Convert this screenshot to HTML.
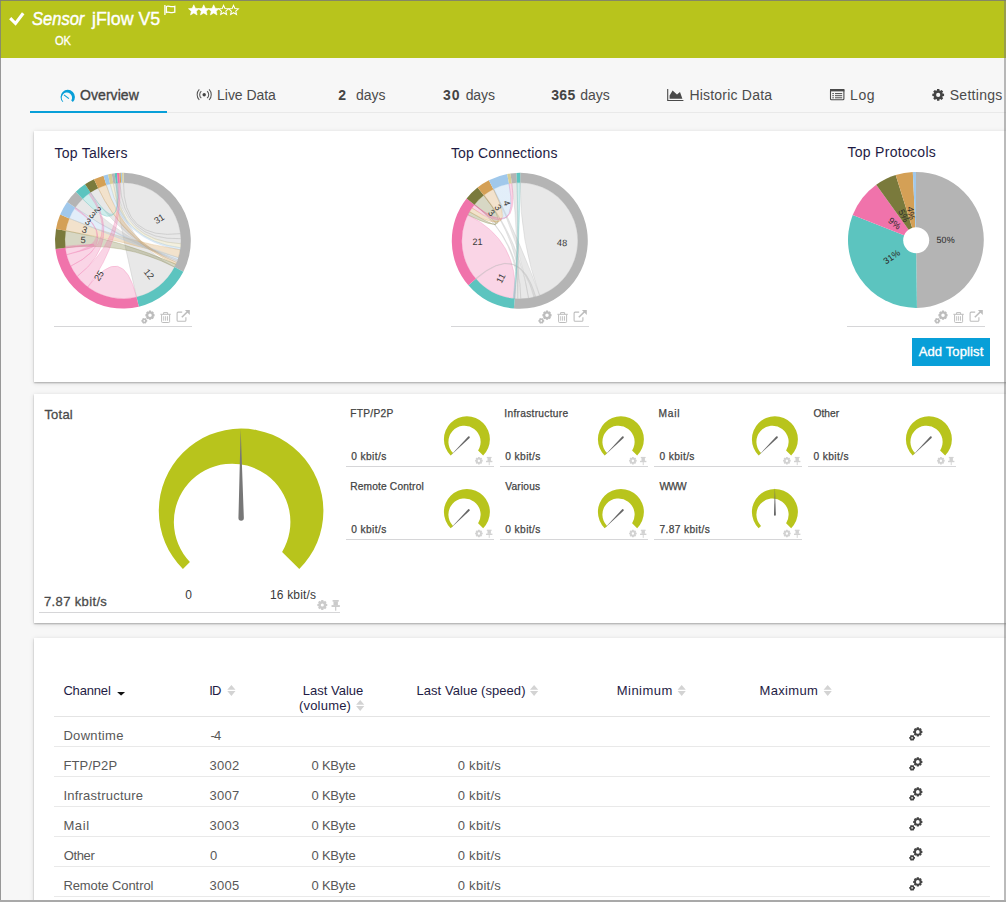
<!DOCTYPE html>
<html lang="en">
<head>
<meta charset="utf-8">
<title>Sensor jFlow V5</title>
<style>
html,body{margin:0;padding:0;}
body{width:1006px;height:902px;overflow:hidden;background:#f7f7f7;font-family:"Liberation Sans",Arial,sans-serif;color:#555;}
#page{position:relative;width:1006px;height:902px;overflow:hidden;background:#f7f7f7;}
.abs{position:absolute;}
.tx{position:absolute;white-space:nowrap;line-height:20px;height:20px;}
.m{-webkit-text-stroke:0.3px currentColor;}
.panel{position:absolute;left:34px;width:990px;background:#fff;box-shadow:0 1px 1.5px rgba(0,0,0,.25),0 1px 5px rgba(0,0,0,.13);}
.uline{position:absolute;height:1px;background:#d6d6d8;}
.rline{position:absolute;left:54px;width:936px;height:1px;background:#e9e9e9;}
svg{position:absolute;overflow:visible;}
svg text{font-family:"Liberation Sans",Arial,sans-serif;}
</style>
</head>
<body>
<div id="page">
<div class="abs" style="left:0;top:0;width:1006px;height:58px;background:#b8c41c;"></div>
<svg style="left:0;top:0" width="60" height="57" viewBox="0 0 60 57"><path d="M10.2 18.2 L15.5 23.5 L23.2 13.2" fill="none" stroke="#fff" stroke-width="3.1"/></svg>
<svg style="left:160px;top:0" width="24" height="20" viewBox="160 0 24 20"><path d="M164.9 5 V15" stroke="#fff" stroke-width="1.3" fill="none"/><path d="M166.4 6.5 C168.6 5.3 170.6 7.7 174.8 6.3 V12.2 C170.6 13.6 168.6 11.2 166.4 12.4 Z" fill="none" stroke="#fff" stroke-width="1.3"/></svg>
<svg style="left:0;top:0" width="260" height="20" viewBox="0 0 260 20"><polygon points="193.80,4.80 195.33,8.30 199.13,8.67 196.27,11.20 197.09,14.93 193.80,13.00 190.51,14.93 191.33,11.20 188.47,8.67 192.27,8.30" fill="#fff" stroke="#fff" stroke-width="0.6" stroke-linejoin="round"/><polygon points="203.74,4.80 205.27,8.30 209.07,8.67 206.21,11.20 207.03,14.93 203.74,13.00 200.45,14.93 201.27,11.20 198.41,8.67 202.21,8.30" fill="#fff" stroke="#fff" stroke-width="0.6" stroke-linejoin="round"/><polygon points="213.68,4.80 215.21,8.30 219.01,8.67 216.15,11.20 216.97,14.93 213.68,13.00 210.39,14.93 211.21,11.20 208.35,8.67 212.15,8.30" fill="#fff" stroke="#fff" stroke-width="0.6" stroke-linejoin="round"/><polygon points="223.62,5.40 224.97,8.54 228.38,8.85 225.81,11.11 226.56,14.45 223.62,12.70 220.68,14.45 221.43,11.11 218.86,8.85 222.27,8.54" fill="none" stroke="#fff" stroke-width="1.05" stroke-linejoin="miter"/><polygon points="233.56,5.40 234.91,8.54 238.32,8.85 235.75,11.11 236.50,14.45 233.56,12.70 230.62,14.45 231.37,11.11 228.80,8.85 232.21,8.54" fill="none" stroke="#fff" stroke-width="1.05" stroke-linejoin="miter"/></svg>
<div class="abs" style="left:30px;top:112px;width:976px;height:1px;background:#e9e9e9;"></div>
<div class="abs" style="left:30px;top:111px;width:137px;height:2px;background:#089fd8;"></div>
<svg style="left:0;top:0" width="100" height="120" viewBox="0 0 100 120"><path d="M62.66 102.09 A7.20 7.20 0 1 1 72.84 102.09 L71.26 100.51 A5.18 5.18 0 1 0 63.29 101.46 Z" fill="#089fd8"/><path d="M64.0 94.9 L68.9 98.6" stroke="#089fd8" stroke-width="1.15" fill="none"/></svg>
<svg style="left:0;top:0" width="260" height="120" viewBox="0 0 260 120"><g fill="none" stroke="#555" stroke-width="1.05"><circle cx="204.2" cy="94.7" r="1.7" fill="#444" stroke="none"/><path d="M201.3 91.2 A4.6 4.6 0 0 0 201.3 98.2"/><path d="M207.1 91.2 A4.6 4.6 0 0 1 207.1 98.2"/><path d="M199.3 89.4 A7.6 7.6 0 0 0 199.3 100"/><path d="M209.1 89.4 A7.6 7.6 0 0 1 209.1 100"/></g></svg>
<svg style="left:0;top:0" width="700" height="120" viewBox="0 0 700 120"><path d="M667.7 89 V100.5 H683.4" fill="none" stroke="#4a4a4a" stroke-width="1.1"/><path d="M669.6 98.8 V95.6 L672.6 90.4 L677 94.6 L680 92 L682.4 98.8 Z" fill="#4a4a4a"/></svg>
<svg style="left:0;top:0" width="860" height="120" viewBox="0 0 860 120"><rect x="830.5" y="89.5" width="13.4" height="10.2" rx="1" fill="none" stroke="#4a4a4a" stroke-width="1.1"/><rect x="830" y="89" width="14.4" height="2.4" fill="#4a4a4a"/><g stroke="#4a4a4a" stroke-width="1"><path d="M832.3 93.6h1.6M835 93.6h7.2M832.3 95.7h1.6M835 95.7h7.2M832.3 97.8h1.6M835 97.8h7.2"/></g></svg>
<svg style="left:0;top:0" width="1006" height="120" viewBox="0 0 1006 120"><path d="M944.08 93.73 L944.08 96.07 L942.61 96.22 L942.25 97.08 L943.19 98.23 L941.53 99.89 L940.38 98.95 L939.52 99.31 L939.37 100.78 L937.03 100.78 L936.88 99.31 L936.02 98.95 L934.87 99.89 L933.21 98.23 L934.15 97.08 L933.79 96.22 L932.32 96.07 L932.32 93.73 L933.79 93.58 L934.15 92.72 L933.21 91.57 L934.87 89.91 L936.02 90.85 L936.88 90.49 L937.03 89.02 L939.37 89.02 L939.52 90.49 L940.38 90.85 L941.53 89.91 L943.19 91.57 L942.25 92.72 L942.61 93.58 Z M936.10 94.90 a2.10 2.10 0 1 0 4.20 0 a2.10 2.10 0 1 0 -4.20 0 Z" fill="#444" fill-rule="evenodd"/></svg>
<div class="panel" style="top:131px;height:251px;"></div>
<div class="panel" style="top:394px;height:229px;"></div>
<div class="panel" style="top:638px;height:280px;"></div>
<div class="uline" style="left:54px;top:326px;width:138px;"></div>
<div class="uline" style="left:451px;top:326px;width:138px;"></div>
<div class="uline" style="left:847px;top:326px;width:138px;"></div>
<svg style="left:130px;top:300px" width="70" height="30" viewBox="130 300 70 30"><path d="M154.59 314.19 L154.59 316.21 L153.76 316.41 L153.51 317.01 L153.96 317.73 L152.53 319.16 L151.81 318.71 L151.21 318.96 L151.01 319.79 L148.99 319.79 L148.79 318.96 L148.19 318.71 L147.47 319.16 L146.04 317.73 L146.49 317.01 L146.24 316.41 L145.41 316.21 L145.41 314.19 L146.24 313.99 L146.49 313.39 L146.04 312.67 L147.47 311.24 L148.19 311.69 L148.79 311.44 L148.99 310.61 L151.01 310.61 L151.21 311.44 L151.81 311.69 L152.53 311.24 L153.96 312.67 L153.51 313.39 L153.76 313.99 Z M148.25 315.20 a1.75 1.75 0 1 0 3.50 0 a1.75 1.75 0 1 0 -3.50 0 Z" fill="#bdbdbd" fill-rule="evenodd"/><path d="M147.18 319.95 L147.18 321.65 L146.45 321.74 L146.19 322.19 L146.48 322.87 L145.00 323.72 L144.56 323.14 L144.04 323.14 L143.60 323.72 L142.12 322.87 L142.41 322.19 L142.15 321.74 L141.42 321.65 L141.42 319.95 L142.15 319.86 L142.41 319.41 L142.12 318.73 L143.60 317.88 L144.04 318.46 L144.56 318.46 L145.00 317.88 L146.48 318.73 L146.19 319.41 L146.45 319.86 Z M143.45 320.80 a0.85 0.85 0 1 0 1.70 0 a0.85 0.85 0 1 0 -1.70 0 Z" fill="#bdbdbd" fill-rule="evenodd"/><g fill="none" stroke="#bdbdbd" stroke-width="1"><path d="M160.4 314.3 H170.8"/><path d="M163.6 314.2 V312.6 H167.6 V314.2"/><path d="M161.6 314.6 V321.6 Q161.6 322.5 162.5 322.5 H168.7 Q169.6 322.5 169.6 321.6 V314.6"/><path d="M163.7 316.2 V320.7 M165.6 316.2 V320.7 M167.5 316.2 V320.7" stroke-width="0.9"/></g><g fill="none" stroke="#bdbdbd"><path d="M185.9 317.2 V320.2 Q185.9 321.3 184.8 321.3 H178.2 Q177.1 321.3 177.1 320.2 V313.2 Q177.1 312.1 178.2 312.1 H182.2" stroke-width="1.1"/><path d="M181.8 317.2 L188.4 310.9" stroke-width="1.5"/></g><path d="M184.9 310 H189.8 V314.9 Z" fill="#bdbdbd"/></svg>
<svg style="left:527px;top:300px" width="70" height="30" viewBox="130 300 70 30"><path d="M154.59 314.19 L154.59 316.21 L153.76 316.41 L153.51 317.01 L153.96 317.73 L152.53 319.16 L151.81 318.71 L151.21 318.96 L151.01 319.79 L148.99 319.79 L148.79 318.96 L148.19 318.71 L147.47 319.16 L146.04 317.73 L146.49 317.01 L146.24 316.41 L145.41 316.21 L145.41 314.19 L146.24 313.99 L146.49 313.39 L146.04 312.67 L147.47 311.24 L148.19 311.69 L148.79 311.44 L148.99 310.61 L151.01 310.61 L151.21 311.44 L151.81 311.69 L152.53 311.24 L153.96 312.67 L153.51 313.39 L153.76 313.99 Z M148.25 315.20 a1.75 1.75 0 1 0 3.50 0 a1.75 1.75 0 1 0 -3.50 0 Z" fill="#bdbdbd" fill-rule="evenodd"/><path d="M147.18 319.95 L147.18 321.65 L146.45 321.74 L146.19 322.19 L146.48 322.87 L145.00 323.72 L144.56 323.14 L144.04 323.14 L143.60 323.72 L142.12 322.87 L142.41 322.19 L142.15 321.74 L141.42 321.65 L141.42 319.95 L142.15 319.86 L142.41 319.41 L142.12 318.73 L143.60 317.88 L144.04 318.46 L144.56 318.46 L145.00 317.88 L146.48 318.73 L146.19 319.41 L146.45 319.86 Z M143.45 320.80 a0.85 0.85 0 1 0 1.70 0 a0.85 0.85 0 1 0 -1.70 0 Z" fill="#bdbdbd" fill-rule="evenodd"/><g fill="none" stroke="#bdbdbd" stroke-width="1"><path d="M160.4 314.3 H170.8"/><path d="M163.6 314.2 V312.6 H167.6 V314.2"/><path d="M161.6 314.6 V321.6 Q161.6 322.5 162.5 322.5 H168.7 Q169.6 322.5 169.6 321.6 V314.6"/><path d="M163.7 316.2 V320.7 M165.6 316.2 V320.7 M167.5 316.2 V320.7" stroke-width="0.9"/></g><g fill="none" stroke="#bdbdbd"><path d="M185.9 317.2 V320.2 Q185.9 321.3 184.8 321.3 H178.2 Q177.1 321.3 177.1 320.2 V313.2 Q177.1 312.1 178.2 312.1 H182.2" stroke-width="1.1"/><path d="M181.8 317.2 L188.4 310.9" stroke-width="1.5"/></g><path d="M184.9 310 H189.8 V314.9 Z" fill="#bdbdbd"/></svg>
<svg style="left:923px;top:300px" width="70" height="30" viewBox="130 300 70 30"><path d="M154.59 314.19 L154.59 316.21 L153.76 316.41 L153.51 317.01 L153.96 317.73 L152.53 319.16 L151.81 318.71 L151.21 318.96 L151.01 319.79 L148.99 319.79 L148.79 318.96 L148.19 318.71 L147.47 319.16 L146.04 317.73 L146.49 317.01 L146.24 316.41 L145.41 316.21 L145.41 314.19 L146.24 313.99 L146.49 313.39 L146.04 312.67 L147.47 311.24 L148.19 311.69 L148.79 311.44 L148.99 310.61 L151.01 310.61 L151.21 311.44 L151.81 311.69 L152.53 311.24 L153.96 312.67 L153.51 313.39 L153.76 313.99 Z M148.25 315.20 a1.75 1.75 0 1 0 3.50 0 a1.75 1.75 0 1 0 -3.50 0 Z" fill="#bdbdbd" fill-rule="evenodd"/><path d="M147.18 319.95 L147.18 321.65 L146.45 321.74 L146.19 322.19 L146.48 322.87 L145.00 323.72 L144.56 323.14 L144.04 323.14 L143.60 323.72 L142.12 322.87 L142.41 322.19 L142.15 321.74 L141.42 321.65 L141.42 319.95 L142.15 319.86 L142.41 319.41 L142.12 318.73 L143.60 317.88 L144.04 318.46 L144.56 318.46 L145.00 317.88 L146.48 318.73 L146.19 319.41 L146.45 319.86 Z M143.45 320.80 a0.85 0.85 0 1 0 1.70 0 a0.85 0.85 0 1 0 -1.70 0 Z" fill="#bdbdbd" fill-rule="evenodd"/><g fill="none" stroke="#bdbdbd" stroke-width="1"><path d="M160.4 314.3 H170.8"/><path d="M163.6 314.2 V312.6 H167.6 V314.2"/><path d="M161.6 314.6 V321.6 Q161.6 322.5 162.5 322.5 H168.7 Q169.6 322.5 169.6 321.6 V314.6"/><path d="M163.7 316.2 V320.7 M165.6 316.2 V320.7 M167.5 316.2 V320.7" stroke-width="0.9"/></g><g fill="none" stroke="#bdbdbd"><path d="M185.9 317.2 V320.2 Q185.9 321.3 184.8 321.3 H178.2 Q177.1 321.3 177.1 320.2 V313.2 Q177.1 312.1 178.2 312.1 H182.2" stroke-width="1.1"/><path d="M181.8 317.2 L188.4 310.9" stroke-width="1.5"/></g><path d="M184.9 310 H189.8 V314.9 Z" fill="#bdbdbd"/></svg>
<div class="abs" style="left:912px;top:338px;width:78px;height:28px;background:#089fd8;"></div>
<svg style="left:0;top:0" width="1006" height="400" viewBox="0 0 1006 400"><path d="M916.00 239.90 L916.00 171.90 A68.00 68.00 0 0 1 916.95 307.89 Z" fill="#b4b4b4"/><path d="M916.00 239.90 L916.95 307.89 A68.00 68.00 0 0 1 852.69 215.09 Z" fill="#5cc4bf"/><path d="M916.00 239.90 L852.69 215.09 A68.00 68.00 0 0 1 876.22 184.75 Z" fill="#f073ab"/><path d="M916.00 239.90 L876.22 184.75 A68.00 68.00 0 0 1 895.67 175.01 Z" fill="#7a7a3c"/><path d="M916.00 239.90 L895.67 175.01 A68.00 68.00 0 0 1 912.80 171.98 Z" fill="#d4a056"/><path d="M916.00 239.90 L912.80 171.98 A68.00 68.00 0 0 1 916.00 171.90 Z" fill="#a0c8eb"/><circle cx="916.20" cy="240.30" r="13" fill="#fff"/><text x="936.60" y="239.76" font-size="9" fill="#2a2a2a" text-anchor="start" transform="rotate(-0.4 936.60 239.76)" dy="0.36em">50%</text><text x="899.06" y="251.63" font-size="9" fill="#2a2a2a" text-anchor="end" transform="rotate(-34.7 899.06 251.63)" dy="0.36em">31%</text><text x="899.72" y="227.27" font-size="9" fill="#2a2a2a" text-anchor="end" transform="rotate(37.8 899.72 227.27)" dy="0.36em">9%</text><text x="906.78" y="221.48" font-size="9" fill="#2a2a2a" text-anchor="end" transform="rotate(63.4 906.78 221.48)" dy="0.36em">5%</text><text x="912.41" y="219.62" font-size="9" fill="#2a2a2a" text-anchor="end" transform="rotate(80.0 912.41 219.62)" dy="0.36em">4%</text></svg>
<svg style="left:0;top:0" width="1006" height="400" viewBox="0 0 1006 400"><g fill-opacity="0.3" stroke-opacity="0.45" stroke-width="0.6"><path d="M123.51 182.70 A58.00 58.00 0 0 1 180.47 233.63 Q122.90 240.70 123.51 182.70 Z" fill="#b4b4b4" stroke="#b4b4b4"/><path d="M174.53 267.12 A58.00 58.00 0 0 1 136.54 297.07 Q122.90 240.70 113.33 183.50 A58.00 58.00 0 0 1 115.83 183.13 Q122.90 240.70 174.53 267.12 Z" fill="#b4b4b4" stroke="#b4b4b4"/><path d="M180.47 233.63 A58.00 58.00 0 0 1 180.86 238.68 Q122.90 240.70 119.86 182.78 A58.00 58.00 0 0 1 123.51 182.70 Q122.90 240.70 180.47 233.63 Z" fill="#b4b4b4" stroke="#b4b4b4"/><path d="M180.86 238.68 A58.00 58.00 0 0 1 180.82 243.74 Q122.90 240.70 115.83 183.13 A58.00 58.00 0 0 1 119.86 182.78 Q122.90 240.70 180.86 238.68 Z" fill="#b4b4b4" stroke="#b4b4b4"/><path d="M180.82 243.74 A58.00 58.00 0 0 1 180.47 247.77 Q122.90 240.70 110.15 184.12 A58.00 58.00 0 0 1 113.33 183.50 Q122.90 240.70 180.82 243.74 Z" fill="#d7cd96" stroke="#d7cd96"/><path d="M180.47 247.77 A58.00 58.00 0 0 1 180.19 249.77 Q122.90 240.70 106.33 185.12 A58.00 58.00 0 0 1 110.15 184.12 Q122.90 240.70 180.47 247.77 Z" fill="#a0c8eb" stroke="#a0c8eb"/><path d="M180.19 249.77 A58.00 58.00 0 0 1 178.37 257.66 Q122.90 240.70 65.76 230.73 A58.00 58.00 0 0 1 69.35 218.41 Q122.90 240.70 180.19 249.77 Z" fill="#d4a056" stroke="#d4a056"/><path d="M178.37 257.66 A58.00 58.00 0 0 1 177.74 259.58 Q122.90 240.70 69.35 218.41 A58.00 58.00 0 0 1 75.27 207.60 Q122.90 240.70 178.37 257.66 Z" fill="#a0c8eb" stroke="#a0c8eb"/><path d="M177.74 259.58 A58.00 58.00 0 0 1 177.23 261.01 Q122.90 240.70 75.27 207.60 A58.00 58.00 0 0 1 82.68 198.91 Q122.90 240.70 177.74 259.58 Z" fill="#b4b4b4" stroke="#b4b4b4"/><path d="M177.23 261.01 A58.00 58.00 0 0 1 176.68 262.43 Q122.90 240.70 90.55 192.56 A58.00 58.00 0 0 1 98.20 188.22 Q122.90 240.70 177.23 261.01 Z" fill="#b4b4b4" stroke="#b4b4b4"/><path d="M176.68 262.43 A58.00 58.00 0 0 1 175.89 264.29 Q122.90 240.70 98.20 188.22 A58.00 58.00 0 0 1 106.33 185.12 Q122.90 240.70 176.68 262.43 Z" fill="#d4a056" stroke="#d4a056"/><path d="M175.89 264.29 A58.00 58.00 0 0 1 174.53 267.12 Q122.90 240.70 65.34 247.87 A58.00 58.00 0 0 1 65.76 230.73 Q122.90 240.70 175.89 264.29 Z" fill="#7a7a3c" stroke="#7a7a3c"/><path d="M82.68 198.91 A58.00 58.00 0 0 1 90.55 192.56 Q122.90 240.70 115.83 183.13 A58.00 58.00 0 0 1 117.84 182.92 Q122.90 240.70 82.68 198.91 Z" fill="#5cc4bf" stroke="#5cc4bf"/><path d="M136.54 297.07 A58.00 58.00 0 0 1 87.83 286.90 Q122.90 240.70 136.54 297.07 Z" fill="#f073ab" stroke="#f073ab"/><path d="M87.83 286.90 A58.00 58.00 0 0 1 77.20 276.41 Q122.90 240.70 117.84 182.92 A58.00 58.00 0 0 1 119.86 182.78 Q122.90 240.70 87.83 286.90 Z" fill="#f073ab" stroke="#f073ab"/><path d="M77.20 276.41 A58.00 58.00 0 0 1 70.77 266.13 Q122.90 240.70 88.81 193.78 A58.00 58.00 0 0 1 90.55 192.56 Q122.90 240.70 77.20 276.41 Z" fill="#f073ab" stroke="#f073ab"/><path d="M70.77 266.13 A58.00 58.00 0 0 1 66.62 254.73 Q122.90 240.70 74.59 208.60 A58.00 58.00 0 0 1 75.27 207.60 Q122.90 240.70 70.77 266.13 Z" fill="#f073ab" stroke="#f073ab"/><path d="M66.62 254.73 A58.00 58.00 0 0 1 65.34 247.87 Q122.90 240.70 65.34 247.87 A58.00 58.00 0 0 1 65.17 246.26 Q122.90 240.70 66.62 254.73 Z" fill="#f073ab" stroke="#f073ab"/></g><path d="M123.61 172.80 A67.90 67.90 0 0 1 183.35 271.63 L174.53 267.12 A58.00 58.00 0 0 0 123.51 182.70 Z" fill="#b4b4b4"/><path d="M183.35 271.63 A67.90 67.90 0 0 1 138.87 306.70 L136.54 297.07 A58.00 58.00 0 0 0 174.53 267.12 Z" fill="#5cc4bf"/><path d="M138.87 306.70 A67.90 67.90 0 0 1 55.52 249.09 L65.34 247.87 A58.00 58.00 0 0 0 136.54 297.07 Z" fill="#f073ab"/><path d="M55.52 249.09 A67.90 67.90 0 0 1 56.01 229.03 L65.76 230.73 A58.00 58.00 0 0 0 65.34 247.87 Z" fill="#7a7a3c"/><path d="M56.01 229.03 A67.90 67.90 0 0 1 60.21 214.61 L69.35 218.41 A58.00 58.00 0 0 0 65.76 230.73 Z" fill="#d4a056"/><path d="M60.21 214.61 A67.90 67.90 0 0 1 67.14 201.95 L75.27 207.60 A58.00 58.00 0 0 0 69.35 218.41 Z" fill="#a0c8eb"/><path d="M67.14 201.95 A67.90 67.90 0 0 1 75.82 191.77 L82.68 198.91 A58.00 58.00 0 0 0 75.27 207.60 Z" fill="#b4b4b4"/><path d="M75.82 191.77 A67.90 67.90 0 0 1 85.03 184.34 L90.55 192.56 A58.00 58.00 0 0 0 82.68 198.91 Z" fill="#5cc4bf"/><path d="M85.03 184.34 A67.90 67.90 0 0 1 93.99 179.26 L98.20 188.22 A58.00 58.00 0 0 0 90.55 192.56 Z" fill="#7a7a3c"/><path d="M93.99 179.26 A67.90 67.90 0 0 1 103.50 175.63 L106.33 185.12 A58.00 58.00 0 0 0 98.20 188.22 Z" fill="#d4a056"/><path d="M103.50 175.63 A67.90 67.90 0 0 1 107.97 174.46 L110.15 184.12 A58.00 58.00 0 0 0 106.33 185.12 Z" fill="#a0c8eb"/><path d="M107.97 174.46 A67.90 67.90 0 0 1 111.69 173.73 L113.33 183.50 A58.00 58.00 0 0 0 110.15 184.12 Z" fill="#d7cd96"/><path d="M111.69 173.73 A67.90 67.90 0 0 1 114.63 173.31 L115.83 183.13 A58.00 58.00 0 0 0 113.33 183.50 Z" fill="#b4b4b4"/><path d="M114.63 173.31 A67.90 67.90 0 0 1 116.98 173.06 L117.84 182.92 A58.00 58.00 0 0 0 115.83 183.13 Z" fill="#5cc4bf"/><path d="M116.98 173.06 A67.90 67.90 0 0 1 119.35 172.89 L119.86 182.78 A58.00 58.00 0 0 0 117.84 182.92 Z" fill="#f073ab"/><path d="M119.35 172.89 A67.90 67.90 0 0 1 120.77 172.83 L121.08 182.73 A58.00 58.00 0 0 0 119.86 182.78 Z" fill="#d4a056"/><path d="M120.77 172.83 A67.90 67.90 0 0 1 122.07 172.81 L122.19 182.70 A58.00 58.00 0 0 0 121.08 182.73 Z" fill="#a0c8eb"/><path d="M122.07 172.81 A67.90 67.90 0 0 1 123.61 172.80 L123.51 182.70 A58.00 58.00 0 0 0 122.19 182.70 Z" fill="#d7cd96"/><text x="154.72" y="221.43" font-size="9.2" fill="#3a3a3a" text-anchor="start" transform="rotate(-31.2 154.72 221.43)" dy="0.36em">31</text><text x="145.96" y="269.89" font-size="9.2" fill="#3a3a3a" text-anchor="start" transform="rotate(51.7 145.96 269.89)" dy="0.36em">12</text><text x="101.78" y="271.32" font-size="9.2" fill="#3a3a3a" text-anchor="end" transform="rotate(-55.4 101.78 271.32)" dy="0.36em">25</text><text x="85.71" y="239.79" font-size="9.2" fill="#3a3a3a" text-anchor="end" transform="rotate(1.4 85.71 239.79)" dy="0.36em">5</text><text x="87.18" y="230.32" font-size="9.2" fill="#3a3a3a" text-anchor="end" transform="rotate(16.2 87.18 230.32)" dy="0.36em">3</text><text x="90.27" y="222.84" font-size="9.2" fill="#3a3a3a" text-anchor="end" transform="rotate(28.7 90.27 222.84)" dy="0.36em">3</text><text x="94.57" y="216.59" font-size="9.2" fill="#3a3a3a" text-anchor="end" transform="rotate(40.4 94.57 216.59)" dy="0.36em">3</text><text x="99.54" y="211.75" font-size="9.2" fill="#3a3a3a" text-anchor="end" transform="rotate(51.1 99.54 211.75)" dy="0.36em">2</text></svg>
<svg style="left:0;top:0" width="1006" height="400" viewBox="0 0 1006 400"><defs><linearGradient id="g1" gradientUnits="userSpaceOnUse" x1="501.01" y1="185.93" x2="473.18" y2="206.30"><stop offset="0.550" stop-color="#a0c8eb"/><stop offset="0.550" stop-color="#f073ab"/></linearGradient></defs><g fill-opacity="0.3" stroke-opacity="0.45" stroke-width="0.6"><path d="M520.20 182.80 A58.00 58.00 0 0 1 539.64 295.30 Q519.80 240.80 520.20 182.80 Z" fill="#b4b4b4" stroke="#b4b4b4"/><path d="M539.64 295.30 A58.00 58.00 0 0 1 528.57 298.13 Q519.80 240.80 493.38 189.17 A58.00 58.00 0 0 1 493.92 188.89 Q519.80 240.80 539.64 295.30 Z" fill="#b4b4b4" stroke="#b4b4b4"/><path d="M528.57 298.13 A58.00 58.00 0 0 1 520.81 298.79 Q519.80 240.80 483.77 195.35 A58.00 58.00 0 0 1 484.25 194.97 Q519.80 240.80 528.57 298.13 Z" fill="#b4b4b4" stroke="#b4b4b4"/><path d="M520.81 298.79 A58.00 58.00 0 0 1 517.78 298.76 Q519.80 240.80 474.41 204.69 A58.00 58.00 0 0 1 474.73 204.30 Q519.80 240.80 520.81 298.79 Z" fill="#b4b4b4" stroke="#b4b4b4"/><path d="M474.41 204.69 A58.00 58.00 0 0 1 483.77 195.35 Q519.80 240.80 467.89 214.92 A58.00 58.00 0 0 1 469.57 211.80 Q519.80 240.80 474.41 204.69 Z" fill="#7a7a3c" stroke="#7a7a3c"/><path d="M517.78 298.76 A58.00 58.00 0 0 1 514.74 298.58 Q519.80 240.80 511.83 183.35 A58.00 58.00 0 0 1 516.97 182.87 Q519.80 240.80 517.78 298.76 Z" fill="#b4b4b4" stroke="#b4b4b4"/><path d="M514.74 298.58 A58.00 58.00 0 0 1 467.89 214.92 Q519.80 240.80 514.74 298.58 Z" fill="#f073ab" stroke="#f073ab"/><path d="M476.23 279.08 A58.00 58.00 0 0 1 475.70 278.47 Q519.80 240.80 535.79 296.55 A58.00 58.00 0 0 1 533.83 297.08 Q519.80 240.80 476.23 279.08 Z" fill="#b4b4b4" stroke="#b4b4b4"/><path d="M493.38 189.17 A58.00 58.00 0 0 1 509.03 183.81 Q519.80 240.80 472.00 207.95 A58.00 58.00 0 0 1 474.41 204.69 Q519.80 240.80 493.38 189.17 Z" fill="url(#g1)" stroke="url(#g1)"/><path d="M483.77 195.35 A58.00 58.00 0 0 1 493.38 189.17 Q519.80 240.80 469.57 211.80 A58.00 58.00 0 0 1 472.00 207.95 Q519.80 240.80 483.77 195.35 Z" fill="#d4a056" stroke="#d4a056"/><path d="M509.03 183.81 A58.00 58.00 0 0 1 511.83 183.35 Q519.80 240.80 474.10 205.09 A58.00 58.00 0 0 1 474.41 204.69 Q519.80 240.80 509.03 183.81 Z" fill="#f073ab" stroke="#f073ab"/><path d="M516.97 182.87 A58.00 58.00 0 0 1 520.20 182.80 Q519.80 240.80 514.74 298.58 A58.00 58.00 0 0 1 513.23 298.43 Q519.80 240.80 516.97 182.87 Z" fill="#5cc4bf" stroke="#5cc4bf"/></g><path d="M520.27 172.80 A68.00 68.00 0 1 1 513.87 308.54 L514.74 298.58 A58.00 58.00 0 1 0 520.20 182.80 Z" fill="#b4b4b4"/><path d="M513.87 308.54 A68.00 68.00 0 0 1 468.40 285.32 L475.96 278.77 A58.00 58.00 0 0 0 514.74 298.58 Z" fill="#5cc4bf"/><path d="M468.40 285.32 A68.00 68.00 0 0 1 466.58 198.47 L474.41 204.69 A58.00 58.00 0 0 0 475.96 278.77 Z" fill="#f073ab"/><path d="M466.58 198.47 A68.00 68.00 0 0 1 477.56 187.51 L483.77 195.35 A58.00 58.00 0 0 0 474.41 204.69 Z" fill="#7a7a3c"/><path d="M477.56 187.51 A68.00 68.00 0 0 1 488.82 180.27 L493.38 189.17 A58.00 58.00 0 0 0 483.77 195.35 Z" fill="#d4a056"/><path d="M488.82 180.27 A68.00 68.00 0 0 1 507.17 173.98 L509.03 183.81 A58.00 58.00 0 0 0 493.38 189.17 Z" fill="#a0c8eb"/><path d="M507.17 173.98 A68.00 68.00 0 0 1 510.45 173.45 L511.83 183.35 A58.00 58.00 0 0 0 509.03 183.81 Z" fill="#d7cd96"/><path d="M510.45 173.45 A68.00 68.00 0 0 1 516.48 172.88 L516.97 182.87 A58.00 58.00 0 0 0 511.83 183.35 Z" fill="#b4b4b4"/><path d="M516.48 172.88 A68.00 68.00 0 0 1 520.27 172.80 L520.20 182.80 A58.00 58.00 0 0 0 516.97 182.87 Z" fill="#5cc4bf"/><text x="556.96" y="242.55" font-size="9.2" fill="#3a3a3a" text-anchor="start" transform="rotate(2.7 556.96 242.55)" dy="0.36em">48</text><text x="502.91" y="273.95" font-size="9.2" fill="#3a3a3a" text-anchor="end" transform="rotate(-63.0 502.91 273.95)" dy="0.36em">11</text><text x="482.61" y="241.58" font-size="9.2" fill="#3a3a3a" text-anchor="end" transform="rotate(-1.2 482.61 241.58)" dy="0.36em">21</text><text x="493.50" y="214.50" font-size="9.2" fill="#3a3a3a" text-anchor="end" transform="rotate(45.0 493.50 214.50)" dy="0.36em">3</text><text x="499.65" y="209.53" font-size="9.2" fill="#3a3a3a" text-anchor="end" transform="rotate(57.2 499.65 209.53)" dy="0.36em">3</text><text x="507.75" y="205.61" font-size="9.2" fill="#3a3a3a" text-anchor="end" transform="rotate(71.1 507.75 205.61)" dy="0.36em">4</text></svg>
<svg style="left:0;top:0" width="1006" height="640" viewBox="0 0 1006 640"><path d="M182.91 569.09 A82.30 82.30 0 1 1 299.29 569.09 L282.10 551.90 A58.27 58.27 0 1 0 189.91 562.09 Z" fill="#b8c41c"/><path d="M240.67 428.90 L238.44 518.11 A2.70 2.70 0 0 0 243.84 518.09 Z" fill="#777777"/><path d="M450.64 455.46 A23.00 23.00 0 1 1 483.16 455.46 L478.11 450.41 A16.10 16.10 0 1 0 453.02 453.08 Z" fill="#b8c41c"/><path d="M450.64 455.46 L469.55 437.89 A0.95 0.95 0 0 0 468.21 436.55 Z" fill="#666666"/><path d="M604.64 455.46 A23.00 23.00 0 1 1 637.16 455.46 L632.11 450.41 A16.10 16.10 0 1 0 607.02 453.08 Z" fill="#b8c41c"/><path d="M604.64 455.46 L623.55 437.89 A0.95 0.95 0 0 0 622.21 436.55 Z" fill="#666666"/><path d="M758.64 455.46 A23.00 23.00 0 1 1 791.16 455.46 L786.11 450.41 A16.10 16.10 0 1 0 761.02 453.08 Z" fill="#b8c41c"/><path d="M758.64 455.46 L777.55 437.89 A0.95 0.95 0 0 0 776.21 436.55 Z" fill="#666666"/><path d="M912.64 455.46 A23.00 23.00 0 1 1 945.16 455.46 L940.11 450.41 A16.10 16.10 0 1 0 915.02 453.08 Z" fill="#b8c41c"/><path d="M912.64 455.46 L931.55 437.89 A0.95 0.95 0 0 0 930.21 436.55 Z" fill="#666666"/><path d="M450.64 528.26 A23.00 23.00 0 1 1 483.16 528.26 L478.11 523.21 A16.10 16.10 0 1 0 453.02 525.88 Z" fill="#b8c41c"/><path d="M450.64 528.26 L469.55 510.69 A0.95 0.95 0 0 0 468.21 509.35 Z" fill="#666666"/><path d="M604.64 528.26 A23.00 23.00 0 1 1 637.16 528.26 L632.11 523.21 A16.10 16.10 0 1 0 607.02 525.88 Z" fill="#b8c41c"/><path d="M604.64 528.26 L623.55 510.69 A0.95 0.95 0 0 0 622.21 509.35 Z" fill="#666666"/><path d="M758.64 528.26 A23.00 23.00 0 1 1 791.16 528.26 L786.11 523.21 A16.10 16.10 0 1 0 761.02 525.88 Z" fill="#b8c41c"/><path d="M774.90 487.40 L773.95 514.80 A0.95 0.95 0 0 0 775.85 514.80 Z" fill="#666666"/></svg>
<div class="uline" style="left:39px;top:612px;width:301px;"></div>
<svg style="left:0;top:0" width="1006" height="640" viewBox="0 0 1006 640"><path d="M327.25 603.91 L327.25 606.09 L326.08 606.21 L325.83 606.81 L326.57 607.73 L325.03 609.27 L324.11 608.53 L323.51 608.78 L323.39 609.95 L321.21 609.95 L321.09 608.78 L320.49 608.53 L319.57 609.27 L318.03 607.73 L318.77 606.81 L318.52 606.21 L317.35 606.09 L317.35 603.91 L318.52 603.79 L318.77 603.19 L318.03 602.27 L319.57 600.73 L320.49 601.47 L321.09 601.22 L321.21 600.05 L323.39 600.05 L323.51 601.22 L324.11 601.47 L325.03 600.73 L326.57 602.27 L325.83 603.19 L326.08 603.79 Z M320.74 605.00 a1.56 1.56 0 1 0 3.12 0 a1.56 1.56 0 1 0 -3.12 0 Z" fill="#cbcbcb" fill-rule="evenodd"/><g fill="#cbcbcb"><rect x="332.57" y="600.06" width="6.24" height="1.56"/><rect x="333.48" y="601.23" width="4.42" height="4.16"/><rect x="331.53" y="605.13" width="8.32" height="1.82"/><rect x="335.11" y="606.69" width="1.17" height="4.03"/></g><path d="M482.71 459.86 L482.71 461.54 L481.80 461.63 L481.61 462.10 L482.18 462.80 L481.00 463.98 L480.30 463.41 L479.83 463.60 L479.74 464.51 L478.06 464.51 L477.97 463.60 L477.50 463.41 L476.80 463.98 L475.62 462.80 L476.19 462.10 L476.00 461.63 L475.09 461.54 L475.09 459.86 L476.00 459.77 L476.19 459.30 L475.62 458.60 L476.80 457.42 L477.50 457.99 L477.97 457.80 L478.06 456.89 L479.74 456.89 L479.83 457.80 L480.30 457.99 L481.00 457.42 L482.18 458.60 L481.61 459.30 L481.80 459.77 Z M477.70 460.70 a1.20 1.20 0 1 0 2.40 0 a1.20 1.20 0 1 0 -2.40 0 Z" fill="#d2d2d2" fill-rule="evenodd"/><g fill="#d2d2d2"><rect x="486.80" y="456.90" width="4.80" height="1.20"/><rect x="487.50" y="457.80" width="3.40" height="3.20"/><rect x="486.00" y="460.80" width="6.40" height="1.40"/><rect x="488.75" y="462.00" width="0.90" height="3.10"/></g><path d="M636.71 459.86 L636.71 461.54 L635.80 461.63 L635.61 462.10 L636.18 462.80 L635.00 463.98 L634.30 463.41 L633.83 463.60 L633.74 464.51 L632.06 464.51 L631.97 463.60 L631.50 463.41 L630.80 463.98 L629.62 462.80 L630.19 462.10 L630.00 461.63 L629.09 461.54 L629.09 459.86 L630.00 459.77 L630.19 459.30 L629.62 458.60 L630.80 457.42 L631.50 457.99 L631.97 457.80 L632.06 456.89 L633.74 456.89 L633.83 457.80 L634.30 457.99 L635.00 457.42 L636.18 458.60 L635.61 459.30 L635.80 459.77 Z M631.70 460.70 a1.20 1.20 0 1 0 2.40 0 a1.20 1.20 0 1 0 -2.40 0 Z" fill="#d2d2d2" fill-rule="evenodd"/><g fill="#d2d2d2"><rect x="640.80" y="456.90" width="4.80" height="1.20"/><rect x="641.50" y="457.80" width="3.40" height="3.20"/><rect x="640.00" y="460.80" width="6.40" height="1.40"/><rect x="642.75" y="462.00" width="0.90" height="3.10"/></g><path d="M790.71 459.86 L790.71 461.54 L789.80 461.63 L789.61 462.10 L790.18 462.80 L789.00 463.98 L788.30 463.41 L787.83 463.60 L787.74 464.51 L786.06 464.51 L785.97 463.60 L785.50 463.41 L784.80 463.98 L783.62 462.80 L784.19 462.10 L784.00 461.63 L783.09 461.54 L783.09 459.86 L784.00 459.77 L784.19 459.30 L783.62 458.60 L784.80 457.42 L785.50 457.99 L785.97 457.80 L786.06 456.89 L787.74 456.89 L787.83 457.80 L788.30 457.99 L789.00 457.42 L790.18 458.60 L789.61 459.30 L789.80 459.77 Z M785.70 460.70 a1.20 1.20 0 1 0 2.40 0 a1.20 1.20 0 1 0 -2.40 0 Z" fill="#d2d2d2" fill-rule="evenodd"/><g fill="#d2d2d2"><rect x="794.80" y="456.90" width="4.80" height="1.20"/><rect x="795.50" y="457.80" width="3.40" height="3.20"/><rect x="794.00" y="460.80" width="6.40" height="1.40"/><rect x="796.75" y="462.00" width="0.90" height="3.10"/></g><path d="M944.71 459.86 L944.71 461.54 L943.80 461.63 L943.61 462.10 L944.18 462.80 L943.00 463.98 L942.30 463.41 L941.83 463.60 L941.74 464.51 L940.06 464.51 L939.97 463.60 L939.50 463.41 L938.80 463.98 L937.62 462.80 L938.19 462.10 L938.00 461.63 L937.09 461.54 L937.09 459.86 L938.00 459.77 L938.19 459.30 L937.62 458.60 L938.80 457.42 L939.50 457.99 L939.97 457.80 L940.06 456.89 L941.74 456.89 L941.83 457.80 L942.30 457.99 L943.00 457.42 L944.18 458.60 L943.61 459.30 L943.80 459.77 Z M939.70 460.70 a1.20 1.20 0 1 0 2.40 0 a1.20 1.20 0 1 0 -2.40 0 Z" fill="#d2d2d2" fill-rule="evenodd"/><g fill="#d2d2d2"><rect x="948.80" y="456.90" width="4.80" height="1.20"/><rect x="949.50" y="457.80" width="3.40" height="3.20"/><rect x="948.00" y="460.80" width="6.40" height="1.40"/><rect x="950.75" y="462.00" width="0.90" height="3.10"/></g><path d="M482.71 532.66 L482.71 534.34 L481.80 534.43 L481.61 534.90 L482.18 535.60 L481.00 536.78 L480.30 536.21 L479.83 536.40 L479.74 537.31 L478.06 537.31 L477.97 536.40 L477.50 536.21 L476.80 536.78 L475.62 535.60 L476.19 534.90 L476.00 534.43 L475.09 534.34 L475.09 532.66 L476.00 532.57 L476.19 532.10 L475.62 531.40 L476.80 530.22 L477.50 530.79 L477.97 530.60 L478.06 529.69 L479.74 529.69 L479.83 530.60 L480.30 530.79 L481.00 530.22 L482.18 531.40 L481.61 532.10 L481.80 532.57 Z M477.70 533.50 a1.20 1.20 0 1 0 2.40 0 a1.20 1.20 0 1 0 -2.40 0 Z" fill="#d2d2d2" fill-rule="evenodd"/><g fill="#d2d2d2"><rect x="486.80" y="529.70" width="4.80" height="1.20"/><rect x="487.50" y="530.60" width="3.40" height="3.20"/><rect x="486.00" y="533.60" width="6.40" height="1.40"/><rect x="488.75" y="534.80" width="0.90" height="3.10"/></g><path d="M636.71 532.66 L636.71 534.34 L635.80 534.43 L635.61 534.90 L636.18 535.60 L635.00 536.78 L634.30 536.21 L633.83 536.40 L633.74 537.31 L632.06 537.31 L631.97 536.40 L631.50 536.21 L630.80 536.78 L629.62 535.60 L630.19 534.90 L630.00 534.43 L629.09 534.34 L629.09 532.66 L630.00 532.57 L630.19 532.10 L629.62 531.40 L630.80 530.22 L631.50 530.79 L631.97 530.60 L632.06 529.69 L633.74 529.69 L633.83 530.60 L634.30 530.79 L635.00 530.22 L636.18 531.40 L635.61 532.10 L635.80 532.57 Z M631.70 533.50 a1.20 1.20 0 1 0 2.40 0 a1.20 1.20 0 1 0 -2.40 0 Z" fill="#d2d2d2" fill-rule="evenodd"/><g fill="#d2d2d2"><rect x="640.80" y="529.70" width="4.80" height="1.20"/><rect x="641.50" y="530.60" width="3.40" height="3.20"/><rect x="640.00" y="533.60" width="6.40" height="1.40"/><rect x="642.75" y="534.80" width="0.90" height="3.10"/></g><path d="M790.71 532.66 L790.71 534.34 L789.80 534.43 L789.61 534.90 L790.18 535.60 L789.00 536.78 L788.30 536.21 L787.83 536.40 L787.74 537.31 L786.06 537.31 L785.97 536.40 L785.50 536.21 L784.80 536.78 L783.62 535.60 L784.19 534.90 L784.00 534.43 L783.09 534.34 L783.09 532.66 L784.00 532.57 L784.19 532.10 L783.62 531.40 L784.80 530.22 L785.50 530.79 L785.97 530.60 L786.06 529.69 L787.74 529.69 L787.83 530.60 L788.30 530.79 L789.00 530.22 L790.18 531.40 L789.61 532.10 L789.80 532.57 Z M785.70 533.50 a1.20 1.20 0 1 0 2.40 0 a1.20 1.20 0 1 0 -2.40 0 Z" fill="#d2d2d2" fill-rule="evenodd"/><g fill="#d2d2d2"><rect x="794.80" y="529.70" width="4.80" height="1.20"/><rect x="795.50" y="530.60" width="3.40" height="3.20"/><rect x="794.00" y="533.60" width="6.40" height="1.40"/><rect x="796.75" y="534.80" width="0.90" height="3.10"/></g></svg>
<div class="uline" style="left:346px;top:466px;width:148px;"></div>
<div class="uline" style="left:500px;top:466px;width:148px;"></div>
<div class="uline" style="left:654px;top:466px;width:148px;"></div>
<div class="uline" style="left:808px;top:466px;width:148px;"></div>
<div class="uline" style="left:346px;top:539px;width:148px;"></div>
<div class="uline" style="left:500px;top:539px;width:148px;"></div>
<div class="uline" style="left:654px;top:539px;width:148px;"></div>
<svg style="left:0;top:0" width="1006" height="902" viewBox="0 0 1006 902"><path d="M117.7 691.9 H124.5 Q125 691.9 124.6 692.4 L121.5 695.3 Q121.1 695.6 120.7 695.3 L117.6 692.4 Q117.2 691.9 117.7 691.9 Z" fill="#111"/><path d="M227.30 689.85 l4.1 -4.85 l4.1 4.85 Z M227.30 691.05 l4.1 4.85 l4.1 -4.85 Z" fill="#d3d3d3"/><path d="M356.10 704.85 l4.1 -4.85 l4.1 4.85 Z M356.10 706.05 l4.1 4.85 l4.1 -4.85 Z" fill="#d3d3d3"/><path d="M530.00 689.85 l4.1 -4.85 l4.1 4.85 Z M530.00 691.05 l4.1 4.85 l4.1 -4.85 Z" fill="#d3d3d3"/><path d="M677.60 689.85 l4.1 -4.85 l4.1 4.85 Z M677.60 691.05 l4.1 4.85 l4.1 -4.85 Z" fill="#d3d3d3"/><path d="M823.60 689.85 l4.1 -4.85 l4.1 4.85 Z M823.60 691.05 l4.1 4.85 l4.1 -4.85 Z" fill="#d3d3d3"/><path d="M922.39 730.89 L922.39 732.91 L921.51 733.09 L921.27 733.68 L921.76 734.43 L920.33 735.86 L919.58 735.37 L918.99 735.61 L918.81 736.49 L916.79 736.49 L916.61 735.61 L916.02 735.37 L915.27 735.86 L913.84 734.43 L914.33 733.68 L914.09 733.09 L913.21 732.91 L913.21 730.89 L914.09 730.71 L914.33 730.12 L913.84 729.37 L915.27 727.94 L916.02 728.43 L916.61 728.19 L916.79 727.31 L918.81 727.31 L918.99 728.19 L919.58 728.43 L920.33 727.94 L921.76 729.37 L921.27 730.12 L921.51 730.71 Z M915.95 731.90 a1.85 1.85 0 1 0 3.70 0 a1.85 1.85 0 1 0 -3.70 0 Z" fill="#454545" fill-rule="evenodd"/><path d="M914.98 737.05 L914.98 738.75 L914.21 738.82 L913.95 739.26 L914.28 739.97 L912.80 740.82 L912.35 740.19 L911.85 740.19 L911.40 740.82 L909.92 739.97 L910.25 739.26 L909.99 738.82 L909.22 738.75 L909.22 737.05 L909.99 736.98 L910.25 736.54 L909.92 735.83 L911.40 734.98 L911.85 735.61 L912.35 735.61 L912.80 734.98 L914.28 735.83 L913.95 736.54 L914.21 736.98 Z M911.30 737.90 a0.80 0.80 0 1 0 1.60 0 a0.80 0.80 0 1 0 -1.60 0 Z" fill="#454545" fill-rule="evenodd"/><path d="M922.39 760.89 L922.39 762.91 L921.51 763.09 L921.27 763.68 L921.76 764.43 L920.33 765.86 L919.58 765.37 L918.99 765.61 L918.81 766.49 L916.79 766.49 L916.61 765.61 L916.02 765.37 L915.27 765.86 L913.84 764.43 L914.33 763.68 L914.09 763.09 L913.21 762.91 L913.21 760.89 L914.09 760.71 L914.33 760.12 L913.84 759.37 L915.27 757.94 L916.02 758.43 L916.61 758.19 L916.79 757.31 L918.81 757.31 L918.99 758.19 L919.58 758.43 L920.33 757.94 L921.76 759.37 L921.27 760.12 L921.51 760.71 Z M915.95 761.90 a1.85 1.85 0 1 0 3.70 0 a1.85 1.85 0 1 0 -3.70 0 Z" fill="#454545" fill-rule="evenodd"/><path d="M914.98 767.05 L914.98 768.75 L914.21 768.82 L913.95 769.26 L914.28 769.97 L912.80 770.82 L912.35 770.19 L911.85 770.19 L911.40 770.82 L909.92 769.97 L910.25 769.26 L909.99 768.82 L909.22 768.75 L909.22 767.05 L909.99 766.98 L910.25 766.54 L909.92 765.83 L911.40 764.98 L911.85 765.61 L912.35 765.61 L912.80 764.98 L914.28 765.83 L913.95 766.54 L914.21 766.98 Z M911.30 767.90 a0.80 0.80 0 1 0 1.60 0 a0.80 0.80 0 1 0 -1.60 0 Z" fill="#454545" fill-rule="evenodd"/><path d="M922.39 790.89 L922.39 792.91 L921.51 793.09 L921.27 793.68 L921.76 794.43 L920.33 795.86 L919.58 795.37 L918.99 795.61 L918.81 796.49 L916.79 796.49 L916.61 795.61 L916.02 795.37 L915.27 795.86 L913.84 794.43 L914.33 793.68 L914.09 793.09 L913.21 792.91 L913.21 790.89 L914.09 790.71 L914.33 790.12 L913.84 789.37 L915.27 787.94 L916.02 788.43 L916.61 788.19 L916.79 787.31 L918.81 787.31 L918.99 788.19 L919.58 788.43 L920.33 787.94 L921.76 789.37 L921.27 790.12 L921.51 790.71 Z M915.95 791.90 a1.85 1.85 0 1 0 3.70 0 a1.85 1.85 0 1 0 -3.70 0 Z" fill="#454545" fill-rule="evenodd"/><path d="M914.98 797.05 L914.98 798.75 L914.21 798.82 L913.95 799.26 L914.28 799.97 L912.80 800.82 L912.35 800.19 L911.85 800.19 L911.40 800.82 L909.92 799.97 L910.25 799.26 L909.99 798.82 L909.22 798.75 L909.22 797.05 L909.99 796.98 L910.25 796.54 L909.92 795.83 L911.40 794.98 L911.85 795.61 L912.35 795.61 L912.80 794.98 L914.28 795.83 L913.95 796.54 L914.21 796.98 Z M911.30 797.90 a0.80 0.80 0 1 0 1.60 0 a0.80 0.80 0 1 0 -1.60 0 Z" fill="#454545" fill-rule="evenodd"/><path d="M922.39 820.89 L922.39 822.91 L921.51 823.09 L921.27 823.68 L921.76 824.43 L920.33 825.86 L919.58 825.37 L918.99 825.61 L918.81 826.49 L916.79 826.49 L916.61 825.61 L916.02 825.37 L915.27 825.86 L913.84 824.43 L914.33 823.68 L914.09 823.09 L913.21 822.91 L913.21 820.89 L914.09 820.71 L914.33 820.12 L913.84 819.37 L915.27 817.94 L916.02 818.43 L916.61 818.19 L916.79 817.31 L918.81 817.31 L918.99 818.19 L919.58 818.43 L920.33 817.94 L921.76 819.37 L921.27 820.12 L921.51 820.71 Z M915.95 821.90 a1.85 1.85 0 1 0 3.70 0 a1.85 1.85 0 1 0 -3.70 0 Z" fill="#454545" fill-rule="evenodd"/><path d="M914.98 827.05 L914.98 828.75 L914.21 828.82 L913.95 829.26 L914.28 829.97 L912.80 830.82 L912.35 830.19 L911.85 830.19 L911.40 830.82 L909.92 829.97 L910.25 829.26 L909.99 828.82 L909.22 828.75 L909.22 827.05 L909.99 826.98 L910.25 826.54 L909.92 825.83 L911.40 824.98 L911.85 825.61 L912.35 825.61 L912.80 824.98 L914.28 825.83 L913.95 826.54 L914.21 826.98 Z M911.30 827.90 a0.80 0.80 0 1 0 1.60 0 a0.80 0.80 0 1 0 -1.60 0 Z" fill="#454545" fill-rule="evenodd"/><path d="M922.39 850.89 L922.39 852.91 L921.51 853.09 L921.27 853.68 L921.76 854.43 L920.33 855.86 L919.58 855.37 L918.99 855.61 L918.81 856.49 L916.79 856.49 L916.61 855.61 L916.02 855.37 L915.27 855.86 L913.84 854.43 L914.33 853.68 L914.09 853.09 L913.21 852.91 L913.21 850.89 L914.09 850.71 L914.33 850.12 L913.84 849.37 L915.27 847.94 L916.02 848.43 L916.61 848.19 L916.79 847.31 L918.81 847.31 L918.99 848.19 L919.58 848.43 L920.33 847.94 L921.76 849.37 L921.27 850.12 L921.51 850.71 Z M915.95 851.90 a1.85 1.85 0 1 0 3.70 0 a1.85 1.85 0 1 0 -3.70 0 Z" fill="#454545" fill-rule="evenodd"/><path d="M914.98 857.05 L914.98 858.75 L914.21 858.82 L913.95 859.26 L914.28 859.97 L912.80 860.82 L912.35 860.19 L911.85 860.19 L911.40 860.82 L909.92 859.97 L910.25 859.26 L909.99 858.82 L909.22 858.75 L909.22 857.05 L909.99 856.98 L910.25 856.54 L909.92 855.83 L911.40 854.98 L911.85 855.61 L912.35 855.61 L912.80 854.98 L914.28 855.83 L913.95 856.54 L914.21 856.98 Z M911.30 857.90 a0.80 0.80 0 1 0 1.60 0 a0.80 0.80 0 1 0 -1.60 0 Z" fill="#454545" fill-rule="evenodd"/><path d="M922.39 880.89 L922.39 882.91 L921.51 883.09 L921.27 883.68 L921.76 884.43 L920.33 885.86 L919.58 885.37 L918.99 885.61 L918.81 886.49 L916.79 886.49 L916.61 885.61 L916.02 885.37 L915.27 885.86 L913.84 884.43 L914.33 883.68 L914.09 883.09 L913.21 882.91 L913.21 880.89 L914.09 880.71 L914.33 880.12 L913.84 879.37 L915.27 877.94 L916.02 878.43 L916.61 878.19 L916.79 877.31 L918.81 877.31 L918.99 878.19 L919.58 878.43 L920.33 877.94 L921.76 879.37 L921.27 880.12 L921.51 880.71 Z M915.95 881.90 a1.85 1.85 0 1 0 3.70 0 a1.85 1.85 0 1 0 -3.70 0 Z" fill="#454545" fill-rule="evenodd"/><path d="M914.98 887.05 L914.98 888.75 L914.21 888.82 L913.95 889.26 L914.28 889.97 L912.80 890.82 L912.35 890.19 L911.85 890.19 L911.40 890.82 L909.92 889.97 L910.25 889.26 L909.99 888.82 L909.22 888.75 L909.22 887.05 L909.99 886.98 L910.25 886.54 L909.92 885.83 L911.40 884.98 L911.85 885.61 L912.35 885.61 L912.80 884.98 L914.28 885.83 L913.95 886.54 L914.21 886.98 Z M911.30 887.90 a0.80 0.80 0 1 0 1.60 0 a0.80 0.80 0 1 0 -1.60 0 Z" fill="#454545" fill-rule="evenodd"/></svg>
<div class="rline" style="top:716px;background:#e4e4e4;"></div>
<div class="rline" style="top:746px;"></div>
<div class="rline" style="top:776px;"></div>
<div class="rline" style="top:806px;"></div>
<div class="rline" style="top:836px;"></div>
<div class="rline" style="top:866px;"></div>
<div class="rline" style="top:896px;"></div>
<!-- TEXT -->
<span class="tx" style="left:32.31px;top:8.59px;font-size:18.5px;color:#ffffff;letter-spacing:0.000px;font-style:italic;-webkit-text-stroke:0.45px #fff;transform:scaleX(0.8931);transform-origin:0 0;">Sensor</span>
<span class="tx" style="left:91.76px;top:8.59px;font-size:18.5px;color:#ffffff;letter-spacing:0.000px;-webkit-text-stroke:0.4px #fff;transform:scaleX(0.9606);transform-origin:0 0;">jFlow V5</span>
<span class="tx" style="left:55.20px;top:30.64px;font-size:12px;color:#ffffff;letter-spacing:0.000px;-webkit-text-stroke:0.3px #fff;transform:scaleX(0.9235);transform-origin:0 0;">OK</span>
<span class="tx" style="left:80.00px;top:84.85px;font-size:14px;color:#444;letter-spacing:0.071px;-webkit-text-stroke:0.35px #444;">Overview</span>
<span class="tx" style="left:217.10px;top:84.85px;font-size:14px;color:#4b4b4b;letter-spacing:-0.050px;">Live Data</span>
<span class="tx" style="left:338.30px;top:84.85px;font-size:14px;color:#444;letter-spacing:0.000px;font-weight:bold;">2</span>
<span class="tx" style="left:356.00px;top:84.85px;font-size:14px;color:#4b4b4b;letter-spacing:0.000px;">days</span>
<span class="tx" style="left:443.00px;top:84.85px;font-size:14px;color:#444;letter-spacing:1.000px;font-weight:bold;">30</span>
<span class="tx" style="left:465.70px;top:84.85px;font-size:14px;color:#4b4b4b;letter-spacing:-0.100px;">days</span>
<span class="tx" style="left:551.20px;top:84.85px;font-size:14px;color:#444;letter-spacing:0.400px;font-weight:bold;">365</span>
<span class="tx" style="left:580.20px;top:84.85px;font-size:14px;color:#4b4b4b;letter-spacing:0.033px;">days</span>
<span class="tx" style="left:689.40px;top:84.85px;font-size:14px;color:#4b4b4b;letter-spacing:0.208px;">Historic Data</span>
<span class="tx" style="left:850.00px;top:84.85px;font-size:14px;color:#4b4b4b;letter-spacing:0.600px;">Log</span>
<span class="tx" style="left:949.70px;top:84.85px;font-size:14px;color:#4b4b4b;letter-spacing:0.300px;">Settings</span>
<span class="tx" style="left:54.50px;top:143.15px;font-size:14px;color:#1e1b44;letter-spacing:0.240px;">Top Talkers</span>
<span class="tx" style="left:450.90px;top:143.15px;font-size:14px;color:#1e1b44;letter-spacing:0.164px;">Top Connections</span>
<span class="tx" style="left:847.40px;top:142.35px;font-size:14px;color:#1e1b44;letter-spacing:0.300px;">Top Protocols</span>
<span class="tx" style="left:918.70px;top:341.80px;font-size:13px;color:#fff;letter-spacing:0.130px;-webkit-text-stroke:0.35px #fff;">Add Toplist</span>
<span class="tx" style="left:44.40px;top:404.80px;font-size:13px;color:#4a4a4a;letter-spacing:0.225px;-webkit-text-stroke:0.3px #4a4a4a;">Total</span>
<span class="tx" style="left:44.00px;top:591.70px;font-size:13px;color:#4a4a4a;letter-spacing:0.360px;-webkit-text-stroke:0.3px #4a4a4a;">7.87 kbit/s</span>
<span class="tx" style="left:185.20px;top:584.64px;font-size:12px;color:#3a3a3a;letter-spacing:0.000px;">0</span>
<span class="tx" style="left:270.00px;top:584.64px;font-size:12px;color:#3a3a3a;letter-spacing:0.163px;">16 kbit/s</span>
<span class="tx" style="left:350.20px;top:404.37px;font-size:10.2px;color:#444;letter-spacing:0.283px;-webkit-text-stroke:0.25px #444;">FTP/P2P</span>
<span class="tx" style="left:351.20px;top:446.77px;font-size:10.2px;color:#444;letter-spacing:0.400px;-webkit-text-stroke:0.25px #444;">0 kbit/s</span>
<span class="tx" style="left:504.30px;top:404.37px;font-size:10.2px;color:#444;letter-spacing:0.292px;-webkit-text-stroke:0.25px #444;">Infrastructure</span>
<span class="tx" style="left:505.30px;top:446.77px;font-size:10.2px;color:#444;letter-spacing:0.400px;-webkit-text-stroke:0.25px #444;">0 kbit/s</span>
<span class="tx" style="left:658.40px;top:404.37px;font-size:10.2px;color:#444;letter-spacing:0.833px;-webkit-text-stroke:0.25px #444;">Mail</span>
<span class="tx" style="left:659.40px;top:446.77px;font-size:10.2px;color:#444;letter-spacing:0.400px;-webkit-text-stroke:0.25px #444;">0 kbit/s</span>
<span class="tx" style="left:813.50px;top:404.37px;font-size:10.2px;color:#444;letter-spacing:0.025px;-webkit-text-stroke:0.25px #444;">Other</span>
<span class="tx" style="left:813.50px;top:446.77px;font-size:10.2px;color:#444;letter-spacing:0.400px;-webkit-text-stroke:0.25px #444;">0 kbit/s</span>
<span class="tx" style="left:350.20px;top:477.37px;font-size:10.2px;color:#444;letter-spacing:0.169px;-webkit-text-stroke:0.25px #444;">Remote Control</span>
<span class="tx" style="left:351.20px;top:519.77px;font-size:10.2px;color:#444;letter-spacing:0.400px;-webkit-text-stroke:0.25px #444;">0 kbit/s</span>
<span class="tx" style="left:505.30px;top:477.37px;font-size:10.2px;color:#444;letter-spacing:0.167px;-webkit-text-stroke:0.25px #444;">Various</span>
<span class="tx" style="left:505.30px;top:519.77px;font-size:10.2px;color:#444;letter-spacing:0.400px;-webkit-text-stroke:0.25px #444;">0 kbit/s</span>
<span class="tx" style="left:659.40px;top:477.37px;font-size:10.2px;color:#444;letter-spacing:-0.850px;-webkit-text-stroke:0.25px #444;">WWW</span>
<span class="tx" style="left:659.40px;top:519.77px;font-size:10.2px;color:#444;letter-spacing:0.400px;-webkit-text-stroke:0.25px #444;">7.87 kbit/s</span>
<span class="tx" style="left:63.40px;top:680.50px;font-size:13px;color:#1e1b44;letter-spacing:-0.167px;">Channel</span>
<span class="tx" style="left:209.30px;top:680.50px;font-size:13px;color:#1e1b44;letter-spacing:-0.800px;">ID</span>
<span class="tx" style="left:302.70px;top:680.50px;font-size:13px;color:#1e1b44;letter-spacing:0.011px;">Last Value</span>
<span class="tx" style="left:298.90px;top:695.50px;font-size:13px;color:#1e1b44;letter-spacing:0.214px;">(volume)</span>
<span class="tx" style="left:416.50px;top:680.50px;font-size:13px;color:#1e1b44;letter-spacing:0.047px;">Last Value (speed)</span>
<span class="tx" style="left:616.80px;top:680.50px;font-size:13px;color:#1e1b44;letter-spacing:0.450px;">Minimum</span>
<span class="tx" style="left:759.50px;top:680.50px;font-size:13px;color:#1e1b44;letter-spacing:0.350px;">Maximum</span>
<span class="tx" style="left:63.40px;top:725.50px;font-size:13px;color:#585858;letter-spacing:0.314px;">Downtime</span>
<span class="tx" style="left:210.60px;top:725.50px;font-size:13px;color:#585858;letter-spacing:-0.900px;">-4</span>
<span class="tx" style="left:63.40px;top:755.50px;font-size:13px;color:#585858;letter-spacing:0.167px;">FTP/P2P</span>
<span class="tx" style="left:209.60px;top:755.50px;font-size:13px;color:#585858;letter-spacing:0.267px;">3002</span>
<span class="tx" style="left:311.60px;top:755.50px;font-size:13px;color:#585858;letter-spacing:-0.250px;">0 KByte</span>
<span class="tx" style="left:457.70px;top:755.50px;font-size:13px;color:#585858;letter-spacing:0.286px;">0 kbit/s</span>
<span class="tx" style="left:63.40px;top:785.50px;font-size:13px;color:#585858;letter-spacing:0.231px;">Infrastructure</span>
<span class="tx" style="left:209.60px;top:785.50px;font-size:13px;color:#585858;letter-spacing:0.267px;">3007</span>
<span class="tx" style="left:311.60px;top:785.50px;font-size:13px;color:#585858;letter-spacing:-0.250px;">0 KByte</span>
<span class="tx" style="left:457.70px;top:785.50px;font-size:13px;color:#585858;letter-spacing:0.286px;">0 kbit/s</span>
<span class="tx" style="left:63.40px;top:815.50px;font-size:13px;color:#585858;letter-spacing:0.633px;">Mail</span>
<span class="tx" style="left:209.60px;top:815.50px;font-size:13px;color:#585858;letter-spacing:0.267px;">3003</span>
<span class="tx" style="left:311.60px;top:815.50px;font-size:13px;color:#585858;letter-spacing:-0.250px;">0 KByte</span>
<span class="tx" style="left:457.70px;top:815.50px;font-size:13px;color:#585858;letter-spacing:0.286px;">0 kbit/s</span>
<span class="tx" style="left:63.70px;top:845.50px;font-size:13px;color:#585858;letter-spacing:-0.350px;">Other</span>
<span class="tx" style="left:210.00px;top:845.50px;font-size:13px;color:#585858;letter-spacing:0.000px;">0</span>
<span class="tx" style="left:311.60px;top:845.50px;font-size:13px;color:#585858;letter-spacing:-0.250px;">0 KByte</span>
<span class="tx" style="left:457.70px;top:845.50px;font-size:13px;color:#585858;letter-spacing:0.286px;">0 kbit/s</span>
<span class="tx" style="left:63.40px;top:875.50px;font-size:13px;color:#585858;letter-spacing:-0.077px;">Remote Control</span>
<span class="tx" style="left:209.60px;top:875.50px;font-size:13px;color:#585858;letter-spacing:0.267px;">3005</span>
<span class="tx" style="left:311.60px;top:875.50px;font-size:13px;color:#585858;letter-spacing:-0.250px;">0 KByte</span>
<span class="tx" style="left:457.70px;top:875.50px;font-size:13px;color:#585858;letter-spacing:0.286px;">0 kbit/s</span>
<div class="abs" style="left:0;top:0;width:1006px;height:1px;background:rgba(120,120,120,.8);"></div>
<div class="abs" style="left:0;top:0;width:1px;height:902px;background:rgba(126,126,126,.78);"></div>
<div class="abs" style="left:1004px;top:0;width:2px;height:902px;background:rgba(120,120,120,.5);"></div>
<div class="abs" style="left:0;top:900px;width:1006px;height:2px;background:#a9a9a9;"></div>
</div>
</body>
</html>
